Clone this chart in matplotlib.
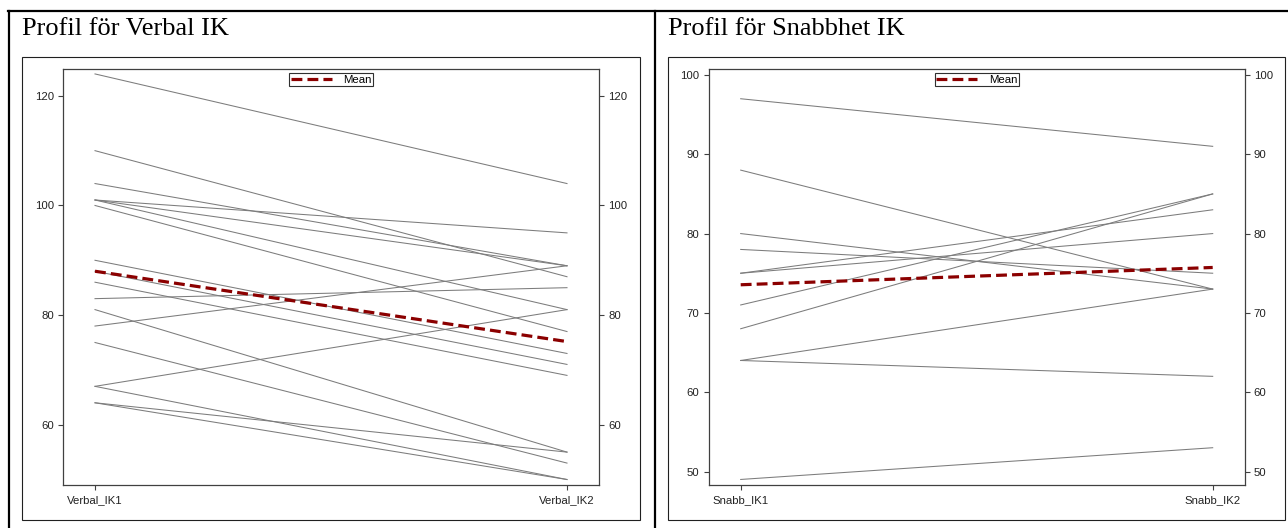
import matplotlib
matplotlib.use('Agg')
import matplotlib.pyplot as plt
from matplotlib.lines import Line2D
from matplotlib.patches import Rectangle
import numpy as np

# data (one line per person)
verbal_labels = ['Verbal_IK1', 'Verbal_IK2']
verbal_ik1 = [124, 110, 104, 101, 101, 101, 100, 90, 88, 86, 83, 81, 78, 75, 67, 67, 64, 64]
verbal_ik2 = [104, 87, 89, 95, 89, 81, 77, 73, 71, 69, 85, 55, 89, 53, 81, 50, 55, 50]
verbal_ticks = [60, 80, 100, 120]

snabb_labels = ['Snabb_IK1', 'Snabb_IK2']
snabb_ik1 = [97, 88, 80, 78, 75, 75, 71, 68, 64, 64, 49]
snabb_ik2 = [91, 73, 73, 75, 83, 80, 85, 85, 73, 62, 53]
snabb_ticks = [50, 60, 70, 80, 90, 100]

titles = ['Profil för Verbal IK', 'Profil för Snabbhet IK']

W, H = 1288, 528
fig = plt.figure(figsize=(W / 100, H / 100), dpi=100)
plt.rcParams['font.family'] = ['Liberation Sans', 'DejaVu Sans']


def fx(px):
    return px / W


def fy(py):
    return 1 - py / H


# table borders round the two cells
for (x0, y0, x1, y1) in [(8, 11, W, 11), (9, 11, 9, H), (654.5, 11, 654.5, H)]:
    fig.add_artist(Line2D([fx(x0), fx(x1)], [fy(y0), fy(y1)], color='black', lw=1.6))


def profile(left, frame, title, labels, ik1, ik2, ticks, ylim):
    # graph frame and title
    fx0, fy0, fx1, fy1 = frame
    fig.add_artist(Rectangle((fx(fx0), fy(fy1)), fx(fx1 - fx0), (fy1 - fy0) / H,
                             fill=False, edgecolor='#202020', lw=0.8))
    fig.text(fx(fx0), fy(35), title, family='Liberation Serif', fontsize=19,
             va='baseline', ha='left')

    ax = fig.add_axes([fx(left), fy(485), fx(536), 416 / H])
    for a, b in zip(ik1, ik2):
        ax.plot([0, 1], [a, b], color='#7c7c7c', lw=0.75)
    ax.plot([0, 1], [np.mean(ik1), np.mean(ik2)], color='#8b0000', lw=2.3,
            dashes=(3.4, 1.6), label='Mean')

    ax.set_xlim(-0.0678, 1.0678)
    ax.set_ylim(*ylim)
    ax.set_xticks([0, 1])
    ax.set_xticklabels(labels)
    ax.set_yticks(ticks)
    ax.tick_params(axis='y', which='both', left=True, right=True, labelleft=True,
                   labelright=True, length=3.6, width=0.8, color='#404040',
                   labelsize=8.2, pad=3, labelcolor='#222222')
    ax.tick_params(axis='x', length=3.6, width=0.8, color='#404040',
                   labelsize=8.2, pad=4, labelcolor='#222222')
    for s in ax.spines.values():
        s.set_color('#404040')
        s.set_linewidth(0.9)

    leg = ax.legend(loc='upper center', bbox_to_anchor=(0.5, 1 - 4 / 416),
                    borderaxespad=0, fontsize=8.2, handlelength=3.6,
                    handletextpad=1.0, borderpad=0.15, fancybox=False,
                    framealpha=1)
    leg.get_frame().set_edgecolor('#303030')
    leg.get_frame().set_linewidth(0.8)
    return ax


profile(63, (22, 57, 640, 520), titles[0], verbal_labels, verbal_ik1, verbal_ik2,
        verbal_ticks, (49.0, 124.9))
profile(708.7, (668, 57, 1285, 520), titles[1], snabb_labels, snabb_ik1, snabb_ik2,
        snabb_ticks, (48.3, 100.75))

plt.savefig('out.png', dpi=100)
